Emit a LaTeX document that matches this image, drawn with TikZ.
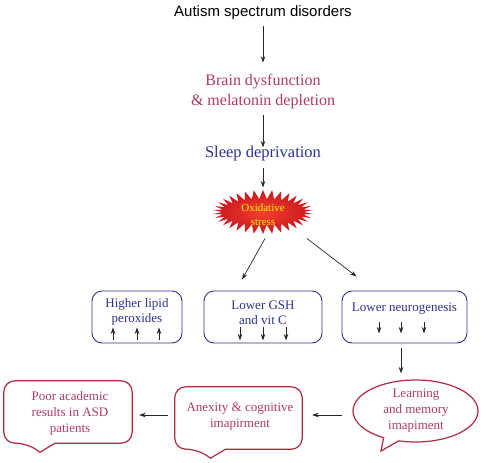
\documentclass[tikz,border=0pt]{standalone}
\usepackage{fontspec}
\setmainfont{Liberation Serif}
\newfontfamily\asdsans{Liberation Sans}
\usetikzlibrary{arrows.meta,calc,shapes.symbols,shapes.callouts}
\definecolor{asdblue}{HTML}{2E3192}
\definecolor{asdrose}{HTML}{B03A62}
\definecolor{asdwine}{HTML}{B12A3C}
\definecolor{burstin}{HTML}{F5402E}
\definecolor{burstout}{HTML}{C8161E}
\definecolor{burstword}{HTML}{FFF200}

\begin{document}
\begin{tikzpicture}[x=1pt,y=-1pt,>={Stealth[length=6.5pt,width=4.5pt]},
  flow/.style={->,line width=0.7pt,black!85},
  bluebox/.style={draw=asdblue,line width=0.9pt,rounded corners=10pt,minimum height=52pt},
  bluetext/.style={text=asdblue,align=center,font=\fontsize{13}{15}\selectfont},
  rosetext/.style={text=asdrose,align=center,font=\fontsize{13}{16}\selectfont},
  tailbox/.style={minimum width=127pt,minimum height=62pt,inner sep=0pt},
  calloutline/.style={draw=asdwine,line width=1.2pt,rounded corners=11pt}]
  \useasboundingbox (0,0) rectangle (482,463);

  % chain of causes
  \node[font=\asdsans\fontsize{15}{18}\selectfont] (asd) at (263,12.5) {Autism spectrum disorders};
  \node[text=asdrose,align=center,font=\fontsize{16}{20}\selectfont] (brain) at (263,91.5) {Brain dysfunction\\\& melatonin depletion};
  \node[text=asdblue,font=\fontsize{16.5}{20}\selectfont] (sleep) at (263,153.5) {Sleep deprivation};
  \node[starburst,starburst points=34,starburst point height=9pt,random starburst=0,
        minimum width=100pt,minimum height=44pt,inner sep=0pt,
        inner color=burstin,outer color=burstout] (ox) at (263,212) {};
  \node[text=burstword,align=center,font=\fontsize{11}{14}\selectfont] (oxtxt) at (263,215) {Oxidative\\stress};

  \draw[flow] ([yshift=-3pt]asd.south) -- ([yshift=8pt]brain.north);
  \draw[flow] ([yshift=-3pt]brain.south) -- ([yshift=-5pt]sleep.north);
  \draw[flow] ([yshift=-3pt]sleep.south) -- ([yshift=2pt]ox.north);

  % markers
  \node[bluebox,minimum width=90pt] (lipid) at (137,317) {};
  \node[bluebox,minimum width=118pt] (gsh) at (263,317) {};
  \node[bluebox,minimum width=125pt] (neuro) at (404.5,317) {};
  \node[bluetext] (lipidtxt) at (137,312) {Higher lipid\\peroxides};
  \node[bluetext] (gshtxt) at (263,312.5) {Lower GSH\\and vit C};
  \node[bluetext] (neurotxt) at (404.5,308.5) {Lower neurogenesis};
  \foreach \dx in {-24,0,22}
    \draw[flow] ([xshift=\dx pt,yshift=3pt]lipid.south) -- ++(0,-13);
  \foreach \dx in {-23,0,23}
    \draw[flow] ([xshift=\dx pt,yshift=16pt]gsh.south) -- ++(0,13);
  \foreach \dx in {-25.5,-3.5,19.5}
    \draw[flow] ([xshift=\dx pt,yshift=21pt]neuro.south) -- ++(0,11);

  \draw[flow] ([xshift=2pt,yshift=-4pt]ox.south) -- ([xshift=-21pt,yshift=11pt]gsh.north);
  \draw[flow] ([xshift=44pt,yshift=-4pt]ox.south) -- ([xshift=15pt,yshift=14pt]neuro.north west);

  % outcomes
  \node[ellipse callout,draw=asdwine,line width=1.2pt,minimum width=125pt,minimum height=62pt,
        callout absolute pointer={(381,451)}] (learn) at (415.5,411) {};
  \node[rosetext] (learntxt) at (416,411) {Learning\\and memory\\imapiment};
  \node[tailbox] (anx) at (238.5,418) {};
  \node[rosetext] (anxtxt) at (240,417) {Anexity \& cognitive\\imapirment};
  \node[tailbox,minimum width=128pt] (poor) at (68,412) {};
  \node[rosetext] (poortxt) at (70,413.5) {Poor academic\\results in ASD\\patients};
  \foreach \n in {poor,anx}
    \draw[calloutline] ([xshift=-13pt]\n.south) -- (\n.south east) -- (\n.north east)
      -- (\n.north west) -- (\n.south west) -- ([xshift=-41pt]\n.south)
      [sharp corners] -- ([xshift=-28pt,yshift=-9pt]\n.south) -- cycle;

  \draw[flow] ([xshift=-3.5pt,yshift=-5pt]neuro.south) -- ([xshift=-14.5pt,yshift=6pt]learn.north);
  \draw[flow] ($(learn.west |- anx.center)+(-10,-3)$) -- ($(anx.east)+(10,-3)$);
  \draw[flow] ($(anx.west)+(-7,-3)$) -- ($(anx.west -| poor.east)+(7,-3)$);
\end{tikzpicture}
\end{document}
